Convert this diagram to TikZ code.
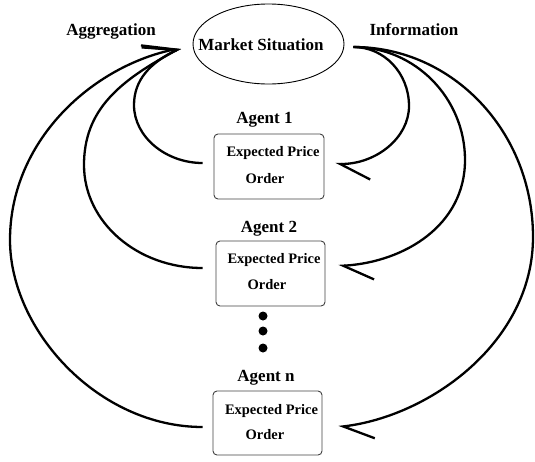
\documentclass[tikz,border=0pt]{standalone}
\usepackage{fontspec}
\setmainfont{Liberation Serif}
\usetikzlibrary{arrows.meta,shapes.geometric,calc}
\begin{document}
\begin{tikzpicture}[x=1pt,y=-1pt,
  lab/.style={font=\fontsize{17}{20}\selectfont\bfseries, inner sep=0pt, anchor=base},
  txt/.style={font=\fontsize{14.5}{17}\selectfont\bfseries, inner sep=0pt, anchor=base},
  agentbox/.style={draw=black!75, line width=0.9pt, rounded corners=4pt, minimum width=110pt, minimum height=65pt, inner sep=0pt},
  market/.style={ellipse, draw, line width=0.9pt, minimum width=151pt, minimum height=80pt, inner sep=0pt},
  flow/.style={line width=2.3pt},
  harp/.style={-{Straight Barb[left,length=30pt,width=#1]}},
  bigdot/.style={circle, fill=black, inner sep=0pt, minimum size=9pt}]
\useasboundingbox (0,0) rectangle (535,461);

% nodes
\node[market] (ms) at (268.5,44) {};
\node[lab] (mst) at (261,50) {Market Situation};
\node[lab] (agg) at (111,35) {Aggregation};
\node[lab] (inf) at (414,35) {Information};

\node[agentbox] (b1) at (269,166.5) {};
\node[agentbox, minimum width=109pt] (b2) at (270.5,273.5) {};
\node[agentbox, minimum width=109pt, minimum height=64pt] (b3) at (267.5,423) {};

\node[lab] (a1) at (264.5,123) {Agent 1};
\node[lab] (a2) at (269,232) {Agent 2};
\node[lab] (a3) at (266,381) {Agent n};

\node[txt] (e1) at (273,156) {Expected Price};
\node[txt] (o1) at (265,183) {Order};
\node[txt] (e2) at (274,263) {Expected Price};
\node[txt] (o2) at (267,289) {Order};
\node[txt] (e3) at (271.5,414) {Expected Price};
\node[txt] (o3) at (265,439) {Order};

\node[bigdot] (d1) at (263,316) {};
\node[bigdot] (d2) at (263,331) {};
\node[bigdot] (d3) at (263,348) {};

% connector end points
\coordinate (aggtip) at ($(ms.west)+(-12,4)$);
\coordinate (infsrc) at ($(ms.east)+(9,3)$);

% aggregation curves (agents -> market)
\draw[flow, harp=36pt] ($(b1.west)+(-11,-3.5)$) .. controls (166,163) and (134,137) .. (134,105)
  .. controls (134,80) and (150,63) .. (aggtip);
\draw[flow, harp=42pt] ($(b2.west)+(-13,-5.5)$) .. controls (137,268) and (84,222) .. (84,165)
  .. controls (84,110) and (119,81) .. (aggtip);
\draw[flow, harp=18pt] ($(b3.west)+(-10,4)$) .. controls (98,427) and (10,330) .. (10,240)
  .. controls (10,142) and (90,68) .. (aggtip);

% information curves (market -> agents)
\draw[flow, harp=31pt] (infsrc) .. controls (384,47) and (409,73) .. (409,106)
  .. controls (409,138) and (376,164) .. ($(b1.east)+(11,-2.5)$);
\draw[flow, harp=31pt] (infsrc) .. controls (415,47) and (465,98) .. (465,160)
  .. controls (465,225) and (405,262) .. ($(b2.east)+(13,-7.5)$);
\draw[flow, harp=31pt] (infsrc) .. controls (453,47) and (533,132) .. (533,237)
  .. controls (533,342) and (430,416) .. ($(b3.east)+(16,4)$);
\end{tikzpicture}
\end{document}
